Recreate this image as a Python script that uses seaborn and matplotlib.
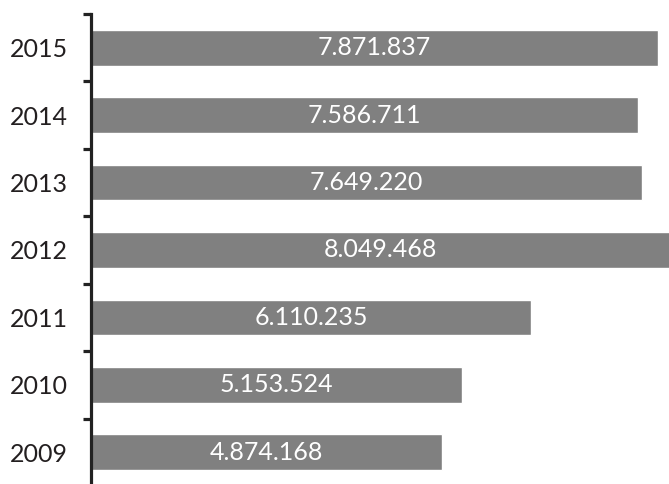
import matplotlib
matplotlib.use("Agg")
import matplotlib.pyplot as plt
import seaborn as sns
import pandas as pd
from matplotlib.ticker import FixedLocator

years = ["2015", "2014", "2013", "2012", "2011", "2010", "2009"]
values = [7871837, 7586711, 7649220, 8049468, 6110235, 5153524, 4874168]
labels = ["7.871.837", "7.586.711", "7.649.220", "8.049.468", "6.110.235", "5.153.524", "4.874.168"]

df = pd.DataFrame({"year": years, "value": values})

sns.set_style("white")
plt.rcParams["font.family"] = ["Lato", "DejaVu Sans"]

fig = plt.figure(figsize=(6.69, 4.84), dpi=100)
ax = fig.add_axes([91 / 669, -0.004, 1 - 91 / 669, 1 - 14 / 484 + 0.004])

XMAX = 8.024e6
sns.barplot(data=df, x="value", y="year", order=years, color="#808080",
            saturation=1, width=0.53, ax=ax, orient="h")

ax.set_xlim(0, XMAX)
ax.set_ylim(len(years) - 0.5, -0.5)
ax.set_xlabel("")
ax.set_ylabel("")
ax.set_xticks([])

for spine in ["top", "right", "bottom"]:
    ax.spines[spine].set_visible(False)
ax.spines["left"].set_color("#222222")
ax.spines["left"].set_linewidth(2.3)

ax.yaxis.set_minor_locator(FixedLocator([i - 0.5 for i in range(len(years) + 1)]))
ax.tick_params(axis="y", which="major", length=0, pad=16.5, labelsize=18, labelcolor="#231f20")
ax.tick_params(axis="y", which="minor", length=6, width=2.3, color="#222222", direction="out", left=True)

for i, (v, lab) in enumerate(zip(values, labels)):
    ax.text(v / 2, i, lab, ha="center", va="center",
            color="white", fontsize=18)

fig.savefig("out.png", dpi=100)
